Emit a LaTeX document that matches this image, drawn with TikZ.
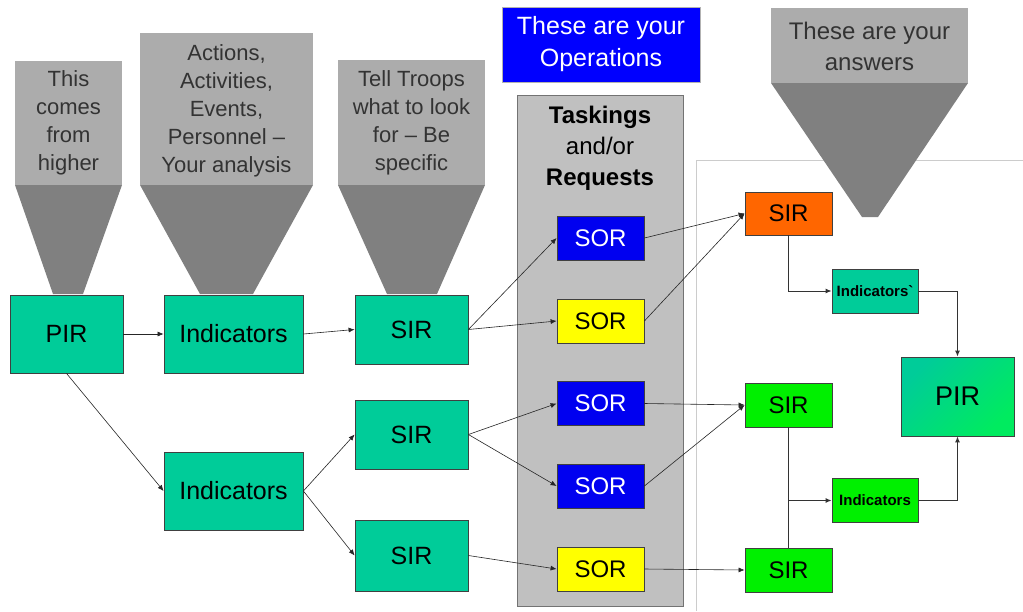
\documentclass[tikz,border=0pt]{standalone}
\usepackage{fontspec}
\setmainfont{Liberation Sans}
\usepackage{xcolor}
\usepackage{tikz}
\usetikzlibrary{arrows.meta}

\definecolor{tealbox}{RGB}{0,204,153}
\definecolor{funnellight}{RGB}{172,172,172}
\definecolor{funneldark}{RGB}{128,128,128}
\definecolor{panelgray}{RGB}{192,192,192}
\definecolor{opsblue}{RGB}{0,0,255}
\definecolor{sorblue}{RGB}{0,0,240}
\definecolor{soryellow}{RGB}{255,255,0}
\definecolor{sirorange}{RGB}{255,102,0}
\definecolor{sirgreen}{RGB}{0,240,0}
\definecolor{pirgreen}{RGB}{0,235,95}

\tikzset{
  box/.style={draw=black!75, line width=.8pt, inner sep=0pt, align=center,
    font=\fontsize{25}{30}\selectfont},
  bigbox/.style={box, fill=tealbox, minimum width=113pt, minimum height=78pt},
  midbox/.style={box, fill=tealbox, minimum width=139pt, minimum height=78pt},
  sirbox/.style={box, fill=tealbox, minimum width=113pt, minimum height=69pt},
  sorbox/.style={box, minimum width=87pt, minimum height=44pt, font=\fontsize{24}{28}\selectfont},
  smallbox/.style={box, minimum width=86pt, minimum height=44pt, font=\fontsize{15}{18}\selectfont\bfseries},
  conn/.style={-{Latex[length=6pt,width=5pt]}, line width=.6pt, black!85},
  elbow/.style={-{Latex[length=6pt,width=5pt]}, line width=1pt, black!80},
  funneltext/.style={align=center, text=black!80, font=\fontsize{22}{28}\selectfont}
}

\begin{document}
\begin{tikzpicture}[x=1pt,y=-1pt]
\useasboundingbox[fill=white] (0,0) rectangle (1023,611);

% frame on the right
\draw[black!20, line width=1pt] (696,611) -- (696,160) -- (1023,160);

% funnels
\fill[funnellight] (15,61) rectangle (122,185);
\fill[funneldark] (15,185) -- (122,185) -- (83,294) -- (53,294) -- cycle;
\node[funneltext] (f1) at (68.5,123) {This\\comes\\from\\higher};

\fill[funnellight] (140,33) rectangle (313,185);
\fill[funneldark] (140,185) -- (313,185) -- (253,294) -- (200,294) -- cycle;
\node[funneltext] (f2) at (226.5,111) {Actions,\\Activities,\\Events,\\Personnel --\\Your analysis};

\fill[funnellight] (338,60) rectangle (485,185);
\fill[funneldark] (338,185) -- (485,185) -- (437,294) -- (387,294) -- cycle;
\node[funneltext] (f3) at (411.5,123) {Tell Troops\\what to look\\for -- Be\\specific};

\fill[funnellight] (771,8) rectangle (968,83);
\fill[funneldark] (771,83) -- (968,83) -- (878,217) -- (862,217) -- cycle;
\node[funneltext, font=\fontsize{24}{31}\selectfont] (f4) at (869.5,46) {These are your\\answers};

% operations label
\node[box, draw=black!30, fill=opsblue, text=white, minimum width=198pt, minimum height=75pt,
  font=\fontsize{25}{32}\selectfont] (ops) at (601,44.5) {These are your\\Operations};

% taskings panel
\filldraw[fill=panelgray, draw=black!55, line width=1pt] (517,95) rectangle (683,606);
\node[align=center, font=\fontsize{24}{31}\selectfont] (task) at (600,148)
  {\textbf{Taskings}\\and/or\\\textbf{Requests}};

% left side
\node[bigbox] (pir) at (66.5,334) {PIR};
\node[midbox] (ind1) at (233.5,334) {Indicators};
\node[midbox] (ind2) at (233.5,491) {Indicators};
\node[sirbox] (sirA) at (411.5,329.5) {SIR};
\node[sirbox] (sirB) at (411.5,434.5) {SIR};
\node[sirbox, minimum height=71pt] (sirC) at (411.5,555.5) {SIR};

% SORs
\node[sorbox, fill=sorblue, text=white] (sorA) at (600.5,238) {SOR};
\node[sorbox, fill=soryellow] (sorB) at (600.5,321) {SOR};
\node[sorbox, fill=sorblue, text=white] (sorC) at (600.5,403.5) {SOR};
\node[sorbox, fill=sorblue, text=white] (sorD) at (600.5,486) {SOR};
\node[sorbox, fill=soryellow] (sorE) at (600.5,569) {SOR};

% right side
\node[sorbox, fill=sirorange, minimum height=43pt] (sirR1) at (788.5,213.5) {SIR};
\node[smallbox, fill=tealbox] (indR1) at (875,291) {Indicators\textasciigrave};
\node[box, shading=axis, left color=tealbox, right color=pirgreen, shading angle=45,
  minimum width=113pt, minimum height=79pt,
  font=\fontsize{27}{32}\selectfont] (pirR) at (957.5,396.5) {PIR};
\node[sorbox, fill=sirgreen] (sirR2) at (788.5,405) {SIR};
\node[sorbox, fill=sirgreen] (sirR3) at (788.5,570) {SIR};
\node[smallbox, fill=sirgreen] (indR2) at (875,500.5) {Indicators};

% connectors
\draw[conn] (pir) -- (ind1);
\draw[conn] (pir.south) -- (ind2.west);
\draw[conn] (ind1.east) -- (sirA.west);
\draw[conn] (ind2.east) -- (sirB.west);
\draw[conn] (ind2.east) -- (sirC.west);

\draw[conn] (sirA.east) -- (sorA.west);
\draw[conn] (sirA.east) -- (sorB.west);
\draw[conn] (sirB.east) -- (sorC.west);
\draw[conn] (sirB.east) -- (sorD.west);
\draw[conn] (sirC.east) -- (sorE.west);

\draw[conn] (sorA.east) -- (sirR1.west);
\draw[conn] (sorB.east) -- (sirR1.west);
\draw[conn] (sorC.east) -- (sirR2.west);
\draw[conn] (sorD.east) -- (sirR2.west);
\draw[conn] (sorE.east) -- (sirR3.west);

\draw[elbow] (sirR1.south) |- (indR1.west);
\draw[elbow] (indR1.east) -| (pirR.north);
\coordinate (jn) at (sirR2.south |- indR2.west);
\draw[line width=1pt, black!80] (sirR2.south) -- (sirR3.north);
\draw[elbow] (jn) -- (indR2.west);
\draw[elbow] (indR2.east) -| (pirR.south);
\end{tikzpicture}
\end{document}
